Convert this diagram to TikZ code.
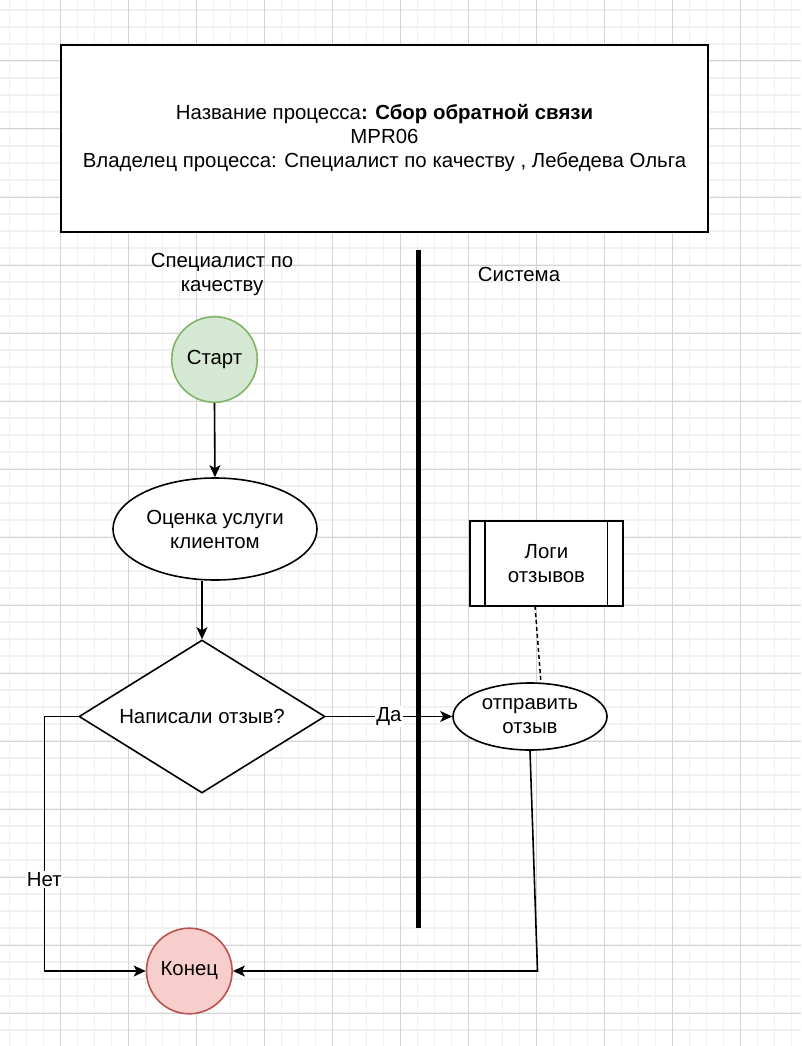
\documentclass[tikz,border=0pt]{standalone}
\usepackage{fontspec}
\setmainfont{Liberation Sans}
\usetikzlibrary{shapes.geometric,arrows.meta}
\definecolor{gminor}{HTML}{F1F1F1}
\definecolor{gmajor}{HTML}{D3D3D3}
\definecolor{startfill}{HTML}{D5E8D4}
\definecolor{startdraw}{HTML}{82B366}
\definecolor{endfill}{HTML}{F8CECC}
\definecolor{enddraw}{HTML}{B85450}
\tikzset{
  txt/.style={font=\fontsize{20.4}{24}\selectfont, align=center, text=black},
  shp/.style={txt, draw=black, line width=1.6pt, fill=white, inner sep=0pt},
  conn/.style={draw=black, line width=1.6pt},
  arr/.style={conn, -{Stealth[length=12pt, width=11pt, inset=3pt]}},
  lbl/.style={txt, fill=white, inner sep=1pt},
}
\begin{document}
\begin{tikzpicture}[x=1pt, y=-1pt]
\useasboundingbox (0,0) rectangle (801,1046);
\fill[white] (0,0) rectangle (801,1046);
% grid
\foreach \i in {0,...,47} {
  \draw[gminor, line width=1.5pt] (9.3+17*\i,0) -- (9.3+17*\i,1046);
}
\foreach \i in {0,...,61} {
  \draw[gminor, line width=1.5pt] (0,10+17*\i) -- (801,10+17*\i);
}
\foreach \i in {0,...,11} {
  \draw[gmajor, line width=1pt] (60.3+68*\i,0) -- (60.3+68*\i,1046);
}
\foreach \i in {0,...,15} {
  \draw[gmajor, line width=1pt] (0,61+68*\i) -- (801,61+68*\i);
}

% title
\node[shp, line width=2pt, minimum width=647pt, minimum height=187pt] (title) at (384.5,138.5)
  {Название процесса\textbf{: Сбор обратной связи}\\MPR06\\Владелец процесса: Специалист по качеству , Лебедева Ольга};

% lane headers
\node[txt] (lane1) at (222,274) {Специалист по\\качеству};
\node[txt] (lane2) at (519,274) {Система};

% nodes
\node[shp, circle, fill=startfill, draw=startdraw, minimum size=85.6pt] (start) at (214.5,359.5) {Старт};
\node[shp, ellipse, minimum width=204pt, minimum height=102pt] (eval) at (215,529) {Оценка услуги\\клиентом};
\node[shp, diamond, aspect=1.61, minimum width=246pt, minimum height=153pt] (dia) at (202,716.5) {Написали отзыв?};
\node[shp, ellipse, minimum width=154pt, minimum height=67pt] (send) at (530,716.5) {отправить\\отзыв};
\node[shp, rectangle, minimum width=153pt, minimum height=85pt] (logi) at (546.5,563.5) {Логи\\отзывов};
\draw[line width=1.6pt] (485,521) -- (485,606) (607.5,521) -- (607.5,606);
\node[shp, circle, fill=endfill, draw=enddraw, minimum size=85.6pt] (end) at (189.3,971) {Конец};

% connectors
\draw[arr] (start.south) -- (eval.north);
\draw[arr] (dia.north |- eval.south) -- (dia.north);
\draw[arr] (dia.east) -- node[lbl, pos=0.5] {Да} (send.west);
\coordinate (n1) at (44.3,716.5);
\coordinate (n2) at (44.3,971);
\draw[arr] (dia.west) -- (n1) -- node[lbl, pos=0.64] {Нет} (n2) -- (end.west);
\coordinate (s1) at (537.5,971);
\draw[arr] (send.south) -- (s1) -- (end.east);
\coordinate (d1) at (535,606);
\coordinate (d2) at (541,683);
\draw[conn, line width=1.5pt, dash pattern=on 4pt off 3pt] (d1) -- (d2);

% lane separator
\coordinate (sepTop) at (418.7,249.5);
\coordinate (sepBot) at (418.7,928);
\draw[black, line width=5pt] (sepTop) -- (sepBot);
\end{tikzpicture}
\end{document}
